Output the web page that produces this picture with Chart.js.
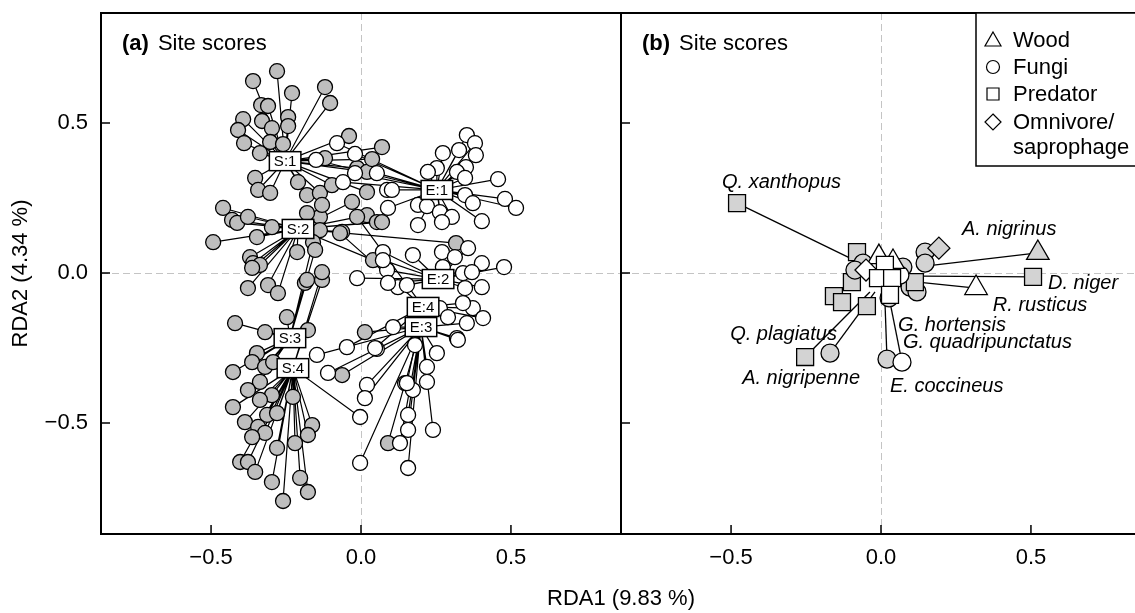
<!DOCTYPE html>
<html>
<head>
<meta charset="utf-8">
<script src="https://cdn.jsdelivr.net/npm/chart.js@4.4.0/dist/chart.umd.min.js"></script>
<style>
html, body { margin: 0; padding: 0; overflow: hidden; background: #fff; }
#wrap { position: relative; width: 1135px; height: 613px; overflow: hidden; font-family: 'Liberation Sans', Arial, sans-serif; }
#boxA { position: absolute; left: 0; top: 0; }
#boxB { position: absolute; left: 620px; top: 0; }
#xtitle { position: absolute; left: 421px; width: 400px; top: 585px; line-height: 26px; text-align: center; font-size: 22px; color: #000; }
</style>
</head>
<body>
<div id="wrap">
  <canvas id="boxA" width="622" height="613"></canvas>
  <canvas id="boxB" width="522" height="613"></canvas>
  <div id="xtitle">RDA1 (9.83 %)</div>
</div>
<script>
// ---- panel (a): site scores, grouped by habitat:period ----
var groupNames = ['S:1', 'S:2', 'S:3', 'S:4', 'E:1', 'E:2', 'E:3', 'E:4'];
var centroidX = [-0.253, -0.21, -0.237, -0.227, 0.253, 0.257, 0.2, 0.207];
var centroidY = [0.373, 0.147, -0.217, -0.317, 0.277, -0.02, -0.18, -0.113];

// sites of each group (habitat = first letter of the group)
var siteX = [
  [-0.28,-0.36,-0.12,-0.23,-0.333,-0.31,-0.103,-0.393,-0.33,-0.243,-0.243,-0.297,-0.41,-0.39,-0.303,-0.26,-0.337,-0.04,0.07,-0.12,-0.013,0.02,0.037,-0.353,-0.343,-0.303,-0.21,-0.18,-0.137,-0.097,0.02],
  [-0.03,-0.46,-0.43,-0.413,-0.377,-0.297,-0.347,-0.137,-0.13,-0.18,-0.063,-0.137,0.02,0.053,-0.493,-0.213,-0.37,-0.36,-0.337,-0.363,-0.31,-0.277,-0.377,0.04,0.317,0.07],
  [-0.16,-0.153,-0.187,-0.18,-0.247,-0.42,-0.32,-0.177,-0.347,-0.363,-0.427,-0.32,-0.293,-0.337,-0.377],
  [-0.13,-0.13,-0.297,-0.337,-0.227,-0.427,-0.313,-0.28,-0.387,-0.343,-0.32,-0.363,-0.163,-0.177,-0.22,-0.28,-0.403,-0.377,-0.353,-0.297,-0.203,-0.177,-0.26],
  [-0.08,-0.02,-0.15,-0.06,-0.02,0.053,0.087,0.09,0.353,0.38,0.327,0.273,0.383,0.35,0.253,0.223,0.32,0.347,0.457,0.103,0.48,0.517,0.347,0.373,0.19,0.22,0.263,0.303,0.403,0.19,0.27],
  [0.357,0.27,0.313,0.403,0.477,0.173,0.087,0.34,0.37,0.403,0.347,0.123,0.153,0.073,0.273,-0.013,0.073,0.09],
  [0.353,0.32,0.107,-0.11,0.02,0.253,0.22,0.18,0.053,0.013,-0.003,0.13,0.157,0.157,0.157,0.24,0.22,0.147,0.173,0.323,-0.147],
  [0.373,0.407,0.34,0.263,0.29,0.047,-0.047,0.153]
];
var siteY = [
  [0.673,0.64,0.62,0.6,0.56,0.557,0.567,0.513,0.507,0.52,0.49,0.483,0.477,0.433,0.437,0.43,0.4,0.457,0.42,0.383,0.35,0.337,0.38,0.317,0.277,0.267,0.303,0.26,0.267,0.293,0.27],
  [0.237,0.217,0.177,0.167,0.187,0.153,0.12,0.187,0.227,0.2,0.137,0.143,0.193,0.17,0.103,0.07,0.053,0.033,0.027,0.017,-0.04,-0.067,-0.05,0.043,0.1,0.17],
  [0.103,0.077,-0.033,-0.023,-0.147,-0.167,-0.197,-0.19,-0.267,-0.297,-0.33,-0.313,-0.297,-0.363,-0.39],
  [-0.023,0.003,-0.407,-0.423,-0.413,-0.447,-0.473,-0.467,-0.497,-0.513,-0.533,-0.547,-0.507,-0.54,-0.567,-0.583,-0.63,-0.63,-0.663,-0.697,-0.683,-0.73,-0.76],
  [0.433,0.397,0.377,0.303,0.333,0.333,0.277,0.217,0.46,0.433,0.41,0.4,0.393,0.353,0.35,0.337,0.337,0.317,0.313,0.277,0.247,0.217,0.26,0.233,0.227,0.223,0.203,0.187,0.173,0.16,0.17],
  [0.083,0.07,0.053,0.033,0.02,0.06,0.01,0,0.003,-0.047,-0.05,-0.047,-0.04,0.07,0.02,-0.017,0.043,-0.033],
  [-0.167,-0.217,-0.18,-0.333,-0.373,-0.267,-0.363,-0.24,-0.253,-0.417,-0.633,-0.567,-0.65,-0.523,-0.473,-0.523,-0.313,-0.367,-0.39,-0.223,-0.273],
  [-0.117,-0.15,-0.1,-0.117,-0.147,-0.25,-0.247,-0.367]
];
// sites whose habitat differs from their group's letter
var strayGroup = [3, 6, 6, 6, 7, 7];
var strayX = [-0.003, 0.013, -0.063, 0.09, -0.013, -0.07];
var strayY = [-0.48, -0.197, -0.34, -0.567, 0.187, 0.133];

// ---- panel (b): species ----
var speciesName = ['', '', '', '', '', '', '', '', '', '', '', '', '', '', 'G. hortensis',
  '', '', '', '', '', '', '', '',
  'Q. xanthopus', 'A. nigrinus', 'D. niger', 'R. rusticus', 'G. quadripunctatus', 'Q. plagiatus', 'A. nigripenne', 'E. coccineus'];
var speciesGuild = ['Predator','Predator','Predator','Predator','Predator','Fungi','Fungi','Fungi','Fungi','Fungi','Predator','Fungi','Fungi','Omnivore','Fungi',
  'Wood','Omnivore','Fungi','Wood','Predator','Predator','Predator','Predator',
  'Predator','Wood','Predator','Wood','Fungi','Predator','Fungi','Fungi'];
var speciesHab = ['S','S','S','S','S','S','S','S','S','S','S','S','S','S','S',
  'E','E','E','E','E','E','E','E',
  'S','S','S','E','S','S','S','E'];
var speciesX = [-0.08,-0.097,-0.157,-0.13,-0.047,-0.06,0.073,0.097,0.12,-0.087,0.113,0.147,0.147,0.193,0.027,
  -0.007,-0.05,0.063,0.04,0.013,-0.01,0.037,0.03,
  -0.48,0.523,0.507,0.317,0.02,-0.253,-0.17,0.07];
var speciesY = [0.07,-0.03,-0.077,-0.097,-0.11,0.033,0.02,-0.047,-0.063,0.01,-0.03,0.07,0.033,0.083,-0.083,
  0.053,0.01,-0.007,0.037,0.027,-0.017,-0.017,-0.073,
  0.233,0.067,-0.013,-0.05,-0.287,-0.28,-0.267,-0.297];
// each labelled species is joined to a second position
var linkSpecies = ['Q. xanthopus', 'A. nigrinus', 'D. niger', 'R. rusticus', 'G. quadripunctatus', 'E. coccineus', 'Q. plagiatus', 'A. nigripenne'];
var linkX = [-0.103, 0.147, 0.137, 0.123, 0.013, 0.03, -0.037, -0.02];
var linkY = [0.05, 0.023, -0.01, -0.03, -0.09, -0.097, -0.063, -0.063];

var legendLabels = ['Wood', 'Fungi', 'Predator', 'Omnivore/', 'saprophage'];

// ---- look ----
var FONT = "'Liberation Sans', Arial, sans-serif";
Chart.defaults.font.family = FONT;
Chart.defaults.color = '#000';

var guildStyle = { Wood: 'triangle', Fungi: 'circle', Predator: 'rect', Omnivore: 'rectRot' };
var guildRadius = { Wood: 13, Fungi: 9, Predator: 12, Omnivore: 11 };
// where the species names sit (data units, left edge / middle)
var nameSpot = {
  'Q. xanthopus': [-0.53, 0.303], 'A. nigrinus': [0.27, 0.147], 'D. niger': [0.557, -0.033],
  'R. rusticus': [0.373, -0.107], 'G. hortensis': [0.057, -0.173], 'G. quadripunctatus': [0.073, -0.23],
  'E. coccineus': [0.03, -0.377], 'Q. plagiatus': [-0.503, -0.203], 'A. nigripenne': [-0.463, -0.35]
};

function tickFmt(v) {
  return (v < 0 ? '\u2212' : '') + Math.abs(v).toFixed(1);
}
function zeroLine(ctx) {
  return (ctx.tick && Math.abs(ctx.tick.value) < 1e-9) ? '#c4c4c4' : 'rgba(0,0,0,0)';
}
// fixed axis sizes, no label overhang padding
function fixSize(prop, size) {
  return function (s) {
    s[prop] = size;
    s.paddingTop = 0; s.paddingBottom = 0; s.paddingLeft = 0; s.paddingRight = 0;
  };
}

function makeScales(withY) {
  return {
    x: {
      type: 'linear', min: -0.867, max: 0.867,
      afterFit: fixSize('height', 79),
      grid: { color: zeroLine, drawTicks: false, lineWidth: 1 },
      border: { display: false, dash: [7, 4] },
      ticks: { stepSize: 0.5, includeBounds: false, padding: 11, maxRotation: 0, callback: tickFmt, font: { size: 22 }, color: '#000' }
    },
    y: {
      type: 'linear', min: -0.87, max: 0.867,
      afterFit: fixSize('width', withY ? 101 : 1),
      grid: { color: zeroLine, drawTicks: false, lineWidth: 1 },
      border: { display: false, dash: [7, 4] },
      ticks: { display: withY, stepSize: 0.5, includeBounds: false, padding: 13, callback: tickFmt, font: { size: 22 }, color: '#000' },
      title: { display: withY, text: 'RDA2 (4.34 %)', font: { size: 22 }, color: '#000', padding: { top: 8, bottom: 0 } }
    }
  };
}

// frame, inward tick marks and the panel heading
function framePlugin(tag) {
  return {
    id: 'frame' + tag,
    afterDatasetsDraw: function (chart) {
      var ctx = chart.ctx, a = chart.chartArea, x = chart.scales.x, y = chart.scales.y;
      ctx.save();
      ctx.strokeStyle = '#000';
      ctx.lineWidth = 2;
      ctx.strokeRect(a.left, a.top, a.right - a.left, a.bottom - a.top);
      ctx.lineWidth = 1.5;
      ctx.beginPath();
      x.ticks.forEach(function (t) {
        var px = x.getPixelForValue(t.value);
        ctx.moveTo(px, a.bottom); ctx.lineTo(px, a.bottom - 9);
      });
      y.ticks.forEach(function (t) {
        var py = y.getPixelForValue(t.value);
        ctx.moveTo(a.left, py); ctx.lineTo(a.left + 9, py);
      });
      ctx.stroke();
      ctx.fillStyle = '#000';
      ctx.textAlign = 'left';
      ctx.textBaseline = 'middle';
      ctx.font = 'bold 22px ' + FONT;
      ctx.fillText(tag, a.left + 21, a.top + 31);
      var w = ctx.measureText(tag).width;
      ctx.font = '22px ' + FONT;
      ctx.fillText('Site scores', a.left + 21 + w + 9, a.top + 31);
      ctx.restore();
    }
  };
}

// ---- chart (a) ----
var dsA = [];
groupNames.forEach(function (g, i) {
  var pts = [];
  var addLeg = function (px, py) {
    pts.push({ x: centroidX[i], y: centroidY[i] });
    pts.push({ x: px, y: py });
  };
  siteX[i].forEach(function (v, k) { addLeg(v, siteY[i][k]); });
  strayGroup.forEach(function (sg, k) { if (sg === i) addLeg(strayX[k], strayY[k]); });
  dsA.push({ data: pts, showLine: true, pointRadius: 0, borderColor: '#000', borderWidth: 1.2, order: 3 });
});
function sitePoints(hab) {
  var pts = [];
  groupNames.forEach(function (g, i) {
    if (g.charAt(0) === hab) siteX[i].forEach(function (v, k) { pts.push({ x: v, y: siteY[i][k] }); });
  });
  strayGroup.forEach(function (sg, k) {
    if (groupNames[sg].charAt(0) !== hab) pts.push({ x: strayX[k], y: strayY[k] });
  });
  return pts;
}
dsA.push({ data: sitePoints('S'), pointRadius: 7.5, pointBackgroundColor: '#bebebe', pointBorderColor: '#000', pointBorderWidth: 1.3, order: 2 });
dsA.push({ data: sitePoints('E'), pointRadius: 7.5, pointBackgroundColor: '#ffffff', pointBorderColor: '#000', pointBorderWidth: 1.3, order: 1 });

var centroidLabels = {
  id: 'centroids',
  afterDatasetsDraw: function (chart) {
    var ctx = chart.ctx, x = chart.scales.x, y = chart.scales.y;
    ctx.save();
    ctx.font = '15px ' + FONT;
    ctx.textAlign = 'center';
    ctx.textBaseline = 'middle';
    groupNames.forEach(function (g, i) {
      var px = x.getPixelForValue(centroidX[i]), py = y.getPixelForValue(centroidY[i]);
      var w = ctx.measureText(g).width + 9, h = 19;
      ctx.fillStyle = '#fff';
      ctx.fillRect(px - w / 2, py - h / 2, w, h);
      ctx.strokeStyle = '#000';
      ctx.lineWidth = 1.5;
      ctx.strokeRect(px - w / 2, py - h / 2, w, h);
      ctx.fillStyle = '#000';
      ctx.fillText(g, px, py + 1);
    });
    ctx.restore();
  }
};

new Chart(document.getElementById('boxA'), {
  type: 'scatter',
  data: { datasets: dsA },
  options: {
    responsive: false, animation: false, events: [],
    layout: { autoPadding: false, padding: { left: 0, top: 13, right: 1, bottom: 0 } },
    scales: makeScales(true),
    plugins: { legend: { display: false }, tooltip: { enabled: false } }
  },
  plugins: [framePlugin('(a)'), centroidLabels]
});

// ---- chart (b) ----
var dsB = [];
linkSpecies.forEach(function (name, k) {
  var i = speciesName.indexOf(name);
  dsB.push({ data: [{ x: speciesX[i], y: speciesY[i] }, { x: linkX[k], y: linkY[k] }],
    showLine: true, pointRadius: 0, borderColor: '#000', borderWidth: 1.3, order: 2 });
});
dsB.push({
  data: speciesX.map(function (v, i) { return { x: v, y: speciesY[i] }; }),
  pointStyle: speciesGuild.map(function (g) { return guildStyle[g]; }),
  pointRadius: speciesGuild.map(function (g) { return guildRadius[g]; }),
  pointBackgroundColor: speciesHab.map(function (h) { return h === 'S' ? '#d3d3d3' : '#ffffff'; }),
  pointBorderColor: '#000', pointBorderWidth: 1.3, order: 1
});

function drawShape(ctx, kind, cx, cy) {
  ctx.beginPath();
  if (kind === 'triangle') {
    ctx.moveTo(cx, cy - 8); ctx.lineTo(cx + 8, cy + 6); ctx.lineTo(cx - 8, cy + 6); ctx.closePath();
  } else if (kind === 'circle') {
    ctx.arc(cx, cy, 6.5, 0, Math.PI * 2);
  } else if (kind === 'rect') {
    ctx.rect(cx - 6, cy - 6, 12, 12);
  } else {
    ctx.moveTo(cx, cy - 8); ctx.lineTo(cx + 8, cy); ctx.lineTo(cx, cy + 8); ctx.lineTo(cx - 8, cy); ctx.closePath();
  }
  ctx.fill();
  ctx.stroke();
}

var speciesText = {
  id: 'speciesText',
  afterDatasetsDraw: function (chart) {
    var ctx = chart.ctx, x = chart.scales.x, y = chart.scales.y, a = chart.chartArea;
    ctx.save();
    ctx.fillStyle = '#000';
    ctx.font = 'italic 20px ' + FONT;
    ctx.textAlign = 'left';
    ctx.textBaseline = 'middle';
    speciesName.forEach(function (n) {
      if (!n || !nameSpot[n]) return;
      ctx.fillText(n, x.getPixelForValue(nameSpot[n][0]), y.getPixelForValue(nameSpot[n][1]));
    });
    // legend box
    var bx = a.right - 165, by = a.top;
    ctx.fillStyle = '#fff';
    ctx.fillRect(bx, by, 200, 153);
    ctx.strokeStyle = '#000';
    ctx.lineWidth = 1.5;
    ctx.strokeRect(bx, by, 200, 153);
    var shapes = ['triangle', 'circle', 'rect', 'rectRot'];
    var rows = [27, 54, 81, 109, 134];
    ctx.lineWidth = 1.2;
    legendLabels.forEach(function (lab, i) {
      if (i < shapes.length) {
        ctx.fillStyle = '#fff';
        drawShape(ctx, shapes[i], bx + 17, by + rows[i]);
      }
      ctx.fillStyle = '#000';
      ctx.font = '22px ' + FONT;
      ctx.fillText(lab, bx + 37, by + rows[i] + 1);
    });
    ctx.restore();
  }
};

new Chart(document.getElementById('boxB'), {
  type: 'scatter',
  data: { datasets: dsB },
  options: {
    responsive: false, animation: false, events: [],
    layout: { autoPadding: false, padding: { left: 0, top: 13, right: 1, bottom: 0 } },
    scales: makeScales(false),
    plugins: { legend: { display: false }, tooltip: { enabled: false } }
  },
  plugins: [framePlugin('(b)'), speciesText]
});
</script>
</body>
</html>
